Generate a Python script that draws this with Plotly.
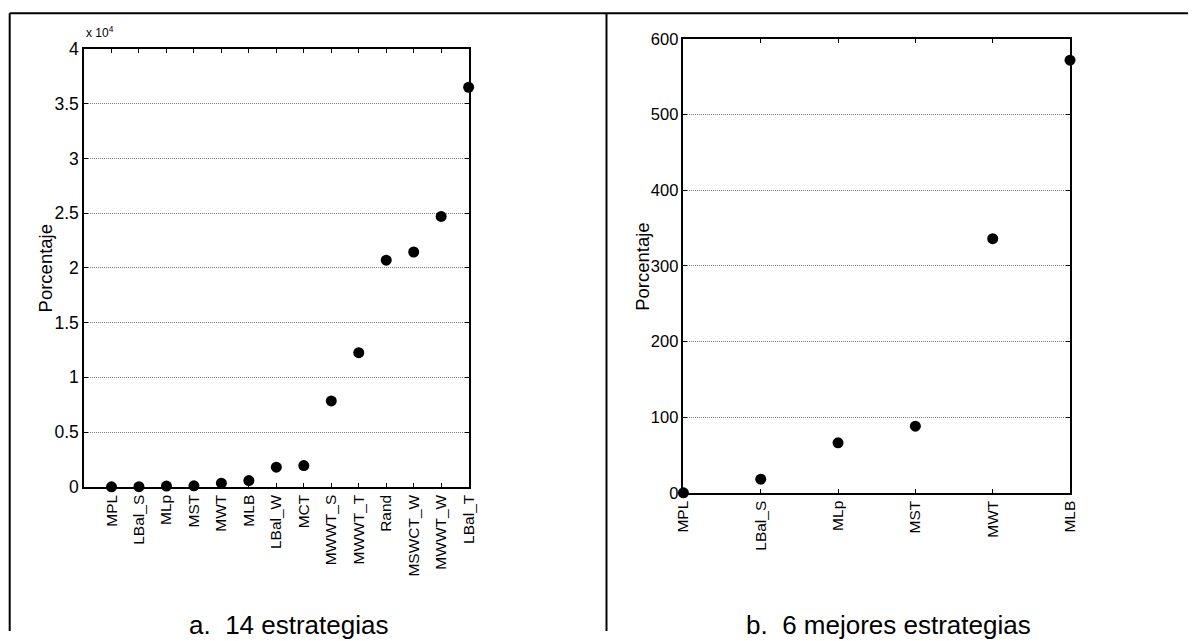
import plotly.graph_objects as go

W, H = 1196, 641
OFF = 8                  # body margin of the page
SX = (W + 2 * OFF) / W   # page is captured at (W+16)x(H+16) and shrunk to WxH
SY = (H + 2 * OFF) / H

cats_a = ["MPL", "LBal_S", "MLp", "MST", "MWT", "MLB", "LBal_W", "MCT",
          "MWWT_S", "MWWT_T", "Rand", "MSWCT_W", "MWWT_W", "LBal_T"]
vals_a = [0, 18, 66, 88, 336, 572, 1790, 1940, 7850, 12250, 20700, 21450, 24700, 36500]

cats_b = ["MPL", "LBal_S", "MLp", "MST", "MWT", "MLB"]
vals_b = [0, 18, 66, 88, 336, 572]

yticks_a = [0, 5000, 10000, 15000, 20000, 25000, 30000, 35000, 40000]
yticklabels_a = ["0", "0.5", "1", "1.5", "2", "2.5", "3", "3.5", "4"]
yticks_b = [0, 100, 200, 300, 400, 500, 600]

font = "Liberation Sans, Arial, sans-serif"

def fx(sx):
    return (sx * SX - OFF) / W

def fy(sy):
    return 1 - (sy * SY - OFF) / H

def px_x(a, b):
    return [fx(a), fx(b)]

def px_y(top, bottom):
    return [fy(bottom), fy(top)]

fig = go.Figure()
fig.add_trace(go.Scatter(x=list(range(1, len(cats_a) + 1)), y=vals_a, mode="markers",
                         marker=dict(color="black", size=11), cliponaxis=False,
                         xaxis="x", yaxis="y", showlegend=False))
fig.add_trace(go.Scatter(x=list(range(1, len(cats_b) + 1)), y=vals_b, mode="markers",
                         marker=dict(color="black", size=11), cliponaxis=False,
                         xaxis="x2", yaxis="y2", showlegend=False))

def xax(**kw):
    d = dict(showline=True, linecolor="black", linewidth=1.5, mirror="ticks",
             ticks="inside", ticklen=4, tickcolor="black", tickangle=-90,
             showgrid=False, zeroline=False, layer="below traces",
             tickfont=dict(family=font, size=15.5, color="black"))
    d.update(kw)
    return d

def yax(size, **kw):
    d = dict(showline=True, linecolor="black", linewidth=1.5, mirror="ticks",
             ticks="inside", ticklen=4, tickcolor="black",
             showgrid=True, gridcolor="#808080", griddash="1px,1px", gridwidth=1,
             zeroline=False, layer="below traces",
             tickfont=dict(family=font, size=size, color="black"))
    d.update(kw)
    return d

fig.update_layout(
    width=W, height=H, margin=dict(l=0, r=0, t=0, b=0),
    paper_bgcolor="white", plot_bgcolor="white",
    xaxis=xax(domain=px_x(83, 468), range=[0, 14], anchor="y",
              tickvals=list(range(1, 15)), ticktext=cats_a),
    yaxis=yax(17.5, domain=px_y(47, 488), range=[0, 40000], anchor="x",
              tickvals=yticks_a, ticktext=yticklabels_a),
    xaxis2=xax(domain=px_x(683, 1070), range=[1, 6], anchor="y2",
               tickvals=list(range(1, 7)), ticktext=cats_b),
    yaxis2=yax(16.5, domain=px_y(37, 494), range=[0, 600], anchor="x2",
               tickvals=yticks_b),
)

ann = []
ann.append(dict(text="x 10<sup>4</sup>", x=fx(83), y=fy(30), xref="paper", yref="paper",
                xanchor="left", yanchor="middle", showarrow=False,
                font=dict(family=font, size=12, color="black")))
ann.append(dict(text="Porcentaje", x=fx(44), y=fy(268), xref="paper", yref="paper",
                xanchor="center", yanchor="middle", textangle=-90, showarrow=False,
                font=dict(family=font, size=18.5, color="black")))
ann.append(dict(text="Porcentaje", x=fx(642), y=fy(266), xref="paper", yref="paper",
                xanchor="center", yanchor="middle", textangle=-90, showarrow=False,
                font=dict(family=font, size=18.5, color="black")))
cap_y = 1 - 652.5 / H
ann.append(dict(text="a.&nbsp;&nbsp;14 estrategias", x=fx(288), y=cap_y,
                xref="paper", yref="paper", xanchor="center", yanchor="bottom", showarrow=False,
                font=dict(family=font, size=26, color="black")))
ann.append(dict(text="b.&nbsp;&nbsp;6 mejores estrategias", x=fx(888), y=cap_y,
                xref="paper", yref="paper", xanchor="center", yanchor="bottom", showarrow=False,
                font=dict(family=font, size=26, color="black")))
fig.update_layout(annotations=ann)

line = dict(color="black", width=2)
top = fy(11)
left = max(fx(7), 0.7 / W)
shapes = [
    dict(type="line", xref="paper", yref="paper", x0=left, x1=1, y0=top, y1=top, line=line),
    dict(type="line", xref="paper", yref="paper", x0=left, x1=left, y0=0, y1=top, line=line),
    dict(type="line", xref="paper", yref="paper", x0=fx(606), x1=fx(606), y0=0, y1=top, line=line),
]
fig.update_layout(shapes=shapes)

fig.write_html("out.html")
